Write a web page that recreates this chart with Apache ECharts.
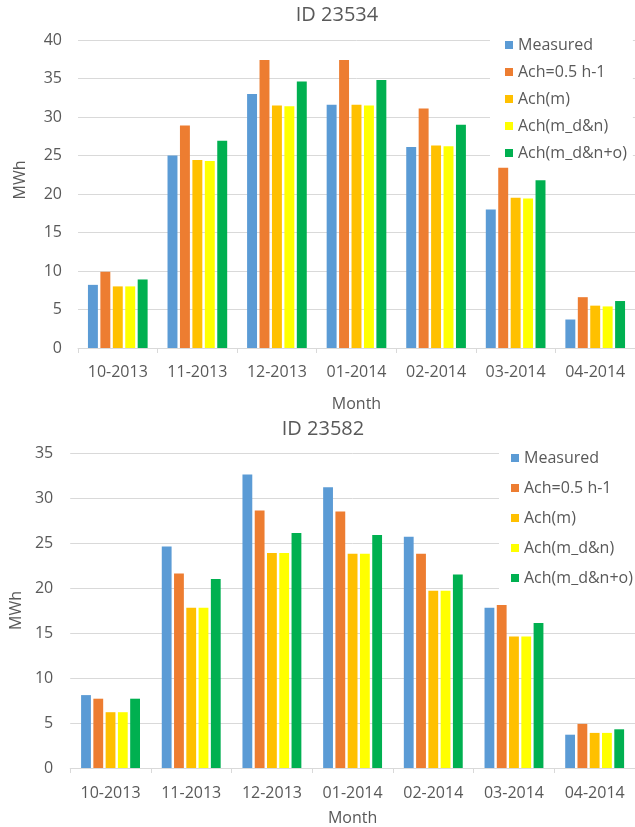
<!DOCTYPE html>
<html>
<head>
<meta charset="utf-8">
<script src="https://cdn.jsdelivr.net/npm/echarts@6/dist/echarts.min.js"></script>
<style>
html,body{margin:0;padding:0;background:#fff;}
#c{width:635px;height:827px;}
</style>
</head>
<body>
<div id="c"></div>
<script>
const months = ['10-2013','11-2013','12-2013','01-2014','02-2014','03-2014','04-2014'];
const seriesNames = ['Measured','Ach=0.5 h-1','Ach(m)','Ach(m_d&n)','Ach(m_d&n+o)'];
const seriesColors = ['#5B9BD5','#ED7D31','#FFC000','#FFFF00','#00B050'];

// ID 23534
const measuredA = [8.2, 25.0, 33.0, 31.6, 26.1, 18.0, 3.7];
const ach05A    = [9.9, 28.9, 37.4, 37.4, 31.1, 23.4, 6.6];
const achmA     = [8.0, 24.4, 31.5, 31.6, 26.3, 19.5, 5.5];
const achdnA    = [8.0, 24.3, 31.4, 31.5, 26.2, 19.4, 5.4];
const achdnoA   = [8.9, 26.9, 34.6, 34.8, 29.0, 21.8, 6.1];

// ID 23582
const measuredB = [8.1, 24.6, 32.6, 31.2, 25.7, 17.8, 3.7];
const ach05B    = [7.7, 21.6, 28.6, 28.5, 23.8, 18.1, 4.9];
const achmB     = [6.2, 17.8, 23.9, 23.8, 19.7, 14.6, 3.9];
const achdnB    = [6.2, 17.8, 23.9, 23.8, 19.7, 14.6, 3.9];
const achdnoB   = [7.7, 21.0, 26.1, 25.9, 21.5, 16.1, 4.3];

const titleA = 'ID 23534';
const titleB = 'ID 23582';
const yName = 'MWh';
const xName = 'Month';

const dataA = [measuredA, ach05A, achmA, achdnA, achdnoA];
const dataB = [measuredB, ach05B, achmB, achdnB, achdnoB];

const FONT = '"Open Sans", sans-serif';
const TXT = '#595959';
const GRIDC = '#d9d9d9';

function xAxisCfg(gi, gap, lm) {
  return {
    type: 'category', gridIndex: gi, data: months,
    name: xName, nameLocation: 'middle', nameGap: gap,
    nameTextStyle: {color: TXT, fontSize: 16, fontFamily: FONT},
    axisLine: {lineStyle: {color: GRIDC}},
    axisTick: {show: true, length: 5, lineStyle: {color: GRIDC}},
    axisLabel: {color: TXT, fontSize: 16, fontFamily: FONT, margin: lm}
  };
}
function yAxisCfg(gi, max, gap, lm, pad) {
  return {
    type: 'value', gridIndex: gi, min: 0, max: max, interval: 5,
    name: yName, nameLocation: 'middle', nameGap: gap, nameRotate: 90,
    nameTextStyle: {color: TXT, fontSize: 16, fontFamily: FONT, padding: pad},
    axisLine: {show: false}, axisTick: {show: false},
    axisLabel: {color: TXT, fontSize: 16, fontFamily: FONT, margin: lm},
    splitLine: {lineStyle: {color: GRIDC, width: 1}}
  };
}
function legendCfg(left, top, gap, padL) {
  return {
    orient: 'vertical', left: left, top: top,
    data: seriesNames, itemWidth: 8, itemHeight: 8, itemGap: gap,
    icon: 'rect', backgroundColor: '#fff', padding: [6, 6, 6, padL],
    textStyle: {color: TXT, fontSize: 16, fontFamily: FONT}
  };
}

const series = [];
[dataA, dataB].forEach((set, gi) => {
  set.forEach((vals, i) => {
    series.push({
      type: 'bar', name: seriesNames[i], xAxisIndex: gi, yAxisIndex: gi,
      data: vals, barGap: '25%', barCategoryGap: gi === 0 ? '25%' : '27%',
      itemStyle: {color: seriesColors[i]}, emphasis: {disabled: true}
    });
  });
});

const chart = echarts.init(document.getElementById('c'), null, {renderer: 'canvas'});
chart.setOption({
  animation: false,
  backgroundColor: '#fff',
  title: [
    {text: titleA, left: 337, top: 5, textAlign: 'center', padding: 0,
     textStyle: {color: TXT, fontSize: 20, fontWeight: 'normal', fontFamily: FONT}},
    {text: titleB, left: 323, top: 419, textAlign: 'center', padding: 0,
     textStyle: {color: TXT, fontSize: 20, fontWeight: 'normal', fontFamily: FONT}}
  ],
  legend: [legendCfg(490, 31, 11, 15), legendCfg(499, 444, 14, 12)],
  grid: [
    {left: 78, top: 40, width: 560, height: 308},
    {left: 63, top: 453, width: 574, height: 316}
  ],
  xAxis: [xAxisCfg(0, 48, 16), xAxisCfg(1, 42, 17)],
  yAxis: [yAxisCfg(0, 40, 50, 16, [0, 0, 0, 28]), yAxisCfg(1, 35, 41, 17, 0)],
  series: series
});
</script>
</body>
</html>
